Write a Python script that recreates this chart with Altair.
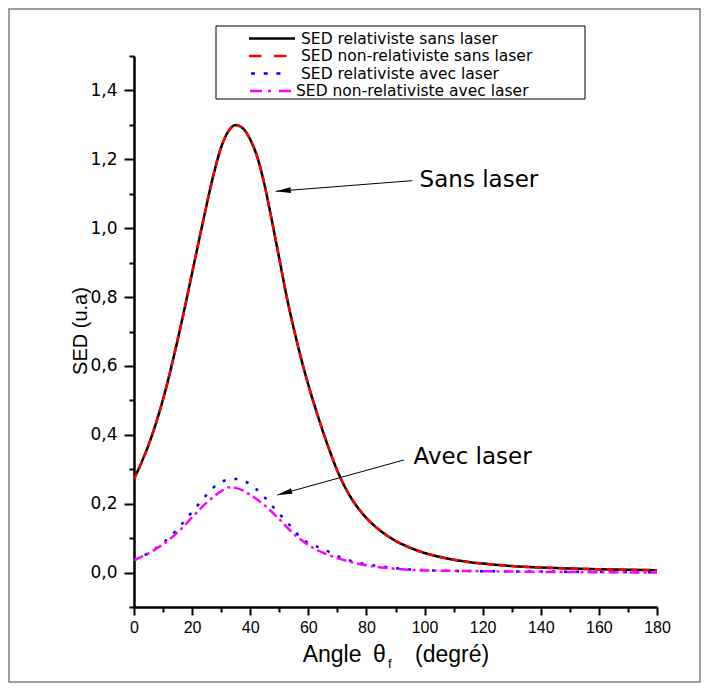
import altair as alt
import pandas as pd

# ---------------- data ----------------
X_SANS = [0, 2.5, 5, 7.5, 10, 12.5, 15, 17.5, 20, 22.5, 25, 27.5, 30, 32.5, 35, 37.5,
          40, 42.5, 45, 47.5, 50, 52.5, 55, 57.5, 60, 62.5, 65, 67.5, 70, 72.5, 75, 77.5,
          80, 85, 90, 95, 100, 105, 110, 115, 120, 130, 140, 150, 160, 170, 180]
Y_REL_SANS = [0.271, 0.318, 0.370, 0.432, 0.503, 0.585, 0.675, 0.770, 0.870, 0.970, 1.068,
              1.160, 1.235, 1.282, 1.300, 1.290, 1.258, 1.205, 1.123, 1.020, 0.912, 0.803,
              0.708, 0.622, 0.545, 0.475, 0.410, 0.350, 0.295, 0.250, 0.213, 0.183, 0.158,
              0.120, 0.092, 0.072, 0.057, 0.046, 0.037, 0.031, 0.026, 0.019, 0.0145, 0.0115,
              0.0095, 0.008, 0.007]
Y_NONREL_SANS = [0.271, 0.318, 0.370, 0.432, 0.503, 0.585, 0.675, 0.770, 0.870, 0.970, 1.068,
                 1.160, 1.235, 1.282, 1.300, 1.290, 1.258, 1.205, 1.123, 1.020, 0.912, 0.803,
                 0.708, 0.622, 0.545, 0.475, 0.410, 0.350, 0.295, 0.250, 0.213, 0.183, 0.158,
                 0.120, 0.092, 0.072, 0.057, 0.046, 0.037, 0.031, 0.026, 0.019, 0.0145, 0.0115,
                 0.0095, 0.008, 0.007]

X_REL_AVEC = [0, 5, 10, 12.5, 15, 17.5, 20, 22.5, 25, 27.5, 30, 32.5, 35, 37.5, 40, 42.5,
              45, 47.5, 50, 52.5, 55, 57.5, 60, 65, 70, 75, 80, 85, 90, 95, 100, 110, 120,
              140, 160, 180]
Y_REL_AVEC = [0.036, 0.057, 0.086, 0.105, 0.127, 0.151, 0.176, 0.201, 0.226, 0.248, 0.263,
              0.270, 0.272, 0.268, 0.256, 0.239, 0.218, 0.194, 0.171, 0.148, 0.124, 0.100,
              0.086, 0.069, 0.048, 0.033, 0.024, 0.018, 0.013, 0.009, 0.007, 0.005, 0.004,
              0.003, 0.002, 0.001]

X_NONREL_AVEC = [0, 5, 10, 15, 20, 25, 30, 33, 35, 40, 45, 50, 55, 60, 65, 70, 75, 80, 85,
                 90, 95, 100, 110, 120, 140, 160, 180]
Y_NONREL_AVEC = [0.036, 0.056, 0.082, 0.117, 0.160, 0.203, 0.236, 0.248, 0.246, 0.226, 0.195,
                 0.155, 0.112, 0.080, 0.058, 0.042, 0.030, 0.021, 0.015, 0.011, 0.008, 0.006,
                 0.005, 0.004, 0.002, 0.001, 0.0]

X_TICKS = [0, 10, 20, 30, 40, 50, 60, 70, 80, 90, 100, 110, 120, 130, 140, 150, 160, 170, 180]
Y_TICKS = [-0.1, 0.0, 0.1, 0.2, 0.3, 0.4, 0.5, 0.6, 0.7, 0.8, 0.9, 1.0, 1.1, 1.2, 1.3, 1.4, 1.5]

LEGEND_LABELS = ["SED relativiste sans laser", "SED non-relativiste sans laser",
                 "SED relativiste avec laser", "SED non-relativiste avec laser"]

ANNOT_TEXT = ["Sans laser", "Avec laser"]
ANNOT_X = [98.3, 96.2]
ANNOT_Y = [1.14, 0.335]
ARROW_X0 = [95.8, 92.9]
ARROW_Y0 = [1.138, 0.327]
ARROW_X1 = [48.8, 49.3]
ARROW_Y1 = [1.107, 0.225]

# ---------------- styles ----------------
W, H = 523, 551
LINE_W = 2.5

xs = alt.Scale(domain=[0, 180], nice=False, zero=False)
ys = alt.Scale(domain=[-0.1, 1.5], nice=False, zero=False)

x_axis = alt.Axis(
    values=X_TICKS, format="d", title=None, grid=False,
    labelExpr="datum.value % 20 == 0 ? datum.label : ''",
    tickSize={"condition": {"test": "datum.value % 20 == 0", "value": 8}, "value": 5},
    domainColor="black", domainWidth=2.5, tickColor="black", tickWidth=2,
    labelFont="Liberation Sans", labelFontSize=16, labelColor="black",
    labelPadding=4, labelFlush=False, labelOverlap=False,
)
y_axis = alt.Axis(
    values=Y_TICKS, title=None, grid=False,
    labelExpr="(round(datum.value*10) % 2 == 0 && datum.value > -0.05 && datum.value < 1.45)"
              " ? replace(format(datum.value, '.1f'), '.', ',') : ''",
    tickSize={"condition": {"test": "round(datum.value*10) % 2 == 0", "value": 10}, "value": 5},
    domainColor="black", domainWidth=2.5, tickColor="black", tickWidth=2,
    labelFont="DejaVu Sans", labelFontSize=17, labelColor="black",
    labelPadding=7, labelFlush=False, labelOverlap=False,
)

one = pd.DataFrame({"k": [0]})

# outer frame and legend box
frame = alt.Chart(one).mark_rect(fill="white", fillOpacity=0, stroke="#7f7f7f", strokeWidth=1.5).encode(
    x=alt.value(-125), x2=alt.value(566), y=alt.value(-47), y2=alt.value(626))
legend_box = alt.Chart(one).mark_rect(fill="white", stroke="black", strokeWidth=1).encode(
    x=alt.value(82), x2=alt.value(451), y=alt.value(-30), y2=alt.value(43))


def line_layer(xv, yv, color, dash, width=LINE_W):
    df = pd.DataFrame({"x": xv, "y": yv})
    kw = dict(color=color, strokeWidth=width, interpolate="monotone", clip=True)
    if dash:
        kw["strokeDash"] = dash
    return alt.Chart(df).mark_line(**kw).encode(
        x=alt.X("x:Q", scale=xs, axis=x_axis),
        y=alt.Y("y:Q", scale=ys, axis=y_axis),
    )


l1 = line_layer(X_SANS, Y_REL_SANS, "black", None)
l2 = line_layer(X_SANS, Y_NONREL_SANS, "#ff0000", [7, 5])
l3 = line_layer(X_REL_AVEC, Y_REL_AVEC, "#0000ff", [3, 9])
l4 = line_layer(X_NONREL_AVEC, Y_NONREL_AVEC, "#ff00ff", [10, 4, 3, 4])

# annotations
ann_df = pd.DataFrame({"t": ANNOT_TEXT, "x": ANNOT_X, "y": ANNOT_Y})
ann = alt.Chart(ann_df).mark_text(align="left", baseline="middle", font="DejaVu Sans",
                                  fontSize=23, color="black").encode(
    x=alt.X("x:Q", scale=xs, axis=x_axis), y=alt.Y("y:Q", scale=ys, axis=y_axis), text="t:N")

arr_df = pd.DataFrame({"x0": ARROW_X0, "y0": ARROW_Y0, "x1": ARROW_X1, "y1": ARROW_Y1})
arr_line = alt.Chart(arr_df).mark_rule(color="black", strokeWidth=1).encode(
    x=alt.X("x0:Q", scale=xs, axis=x_axis), y=alt.Y("y0:Q", scale=ys, axis=y_axis),
    x2="x1:Q", y2="y1:Q")

ARROW_ANGLES = [265.5, 254.5]
heads = []
for i in range(2):
    hdf = pd.DataFrame({"x1": [ARROW_X1[i]], "y1": [ARROW_Y1[i]]})
    heads.append(alt.Chart(hdf).mark_point(
        shape="M0,0L-0.38,2L0.38,2Z", filled=True, color="black", opacity=1,
        size=225, angle=ARROW_ANGLES[i], strokeWidth=0).encode(
        x=alt.X("x1:Q", scale=xs, axis=x_axis), y=alt.Y("y1:Q", scale=ys, axis=y_axis)))

# legend entries (drawn by hand, as in the reference)
ROW_Y = [-17.5, 0, 17.5, 35]
leg_layers = []
leg_styles = [
    dict(color="black", dash=None, x0=115, x1=161),
    dict(color="#ff0000", dash=[12.5, 12.5], x0=115, x1=153),
    dict(color="#0000ff", dash=[4, 8.7], x0=117, x1=148),
    dict(color="#ff00ff", dash=[12, 6, 3, 8], x0=116, x1=161),
]
TEXT_X = [167, 167, 167, 162]
for i, st in enumerate(leg_styles):
    kw = dict(color=st["color"], strokeWidth=2.5)
    if st["dash"]:
        kw["strokeDash"] = st["dash"]
    leg_layers.append(alt.Chart(one).mark_rule(**kw).encode(
        x=alt.value(st["x0"]), x2=alt.value(st["x1"]), y=alt.value(ROW_Y[i])))
    ldf = pd.DataFrame({"label": [LEGEND_LABELS[i]]})
    leg_layers.append(alt.Chart(ldf).mark_text(
        align="left", baseline="middle", font="DejaVu Sans", fontSize=15.5, color="black").encode(
        x=alt.value(TEXT_X[i]), y=alt.value(ROW_Y[i]), text="label:N"))

# axis titles (the x title has a subscript, so it is composed of pieces)
ytitle = alt.Chart(pd.DataFrame({"t": ["SED (u.a)"]})).mark_text(
    angle=270, align="center", baseline="middle", font="Liberation Sans", fontSize=20,
    color="black").encode(x=alt.value(-53), y=alt.value(275), text="t:N")

XT_PIECES = ["Angle", "θ", "f", "(degré)"]
XT_X = [168.7, 239, 254, 281]
XT_Y = [605.7, 605.7, 612, 605.7]
XT_SIZE = [23, 23, 13, 23]
xt_layers = []
for i, piece in enumerate(XT_PIECES):
    xt_layers.append(alt.Chart(pd.DataFrame({"t": [piece]})).mark_text(
        align="left", baseline="alphabetic", font="Liberation Sans", fontSize=XT_SIZE[i],
        color="black").encode(x=alt.value(XT_X[i]), y=alt.value(XT_Y[i]), text="t:N"))

chart = alt.layer(
    frame, l1, l2, l3, l4, arr_line, *heads, ann, legend_box, *leg_layers, ytitle, *xt_layers
).properties(
    width=W, height=H,
    autosize=alt.AutoSizeParams(type="none"),
    padding={"left": 126, "top": 48, "right": 44, "bottom": 76},
    background="white",
).configure_view(strokeWidth=0)

chart.save("out.html", embed_options={"renderer": "svg", "actions": False})
